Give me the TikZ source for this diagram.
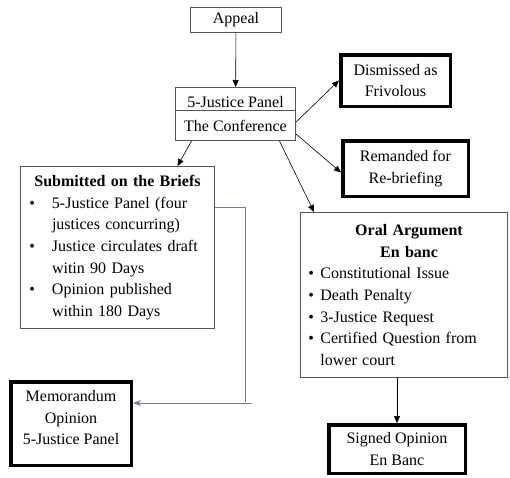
\documentclass[tikz,border=0pt]{standalone}
\usepackage{fontspec}
\setmainfont{Liberation Serif}
\usetikzlibrary{arrows.meta}
\definecolor{boxgray}{RGB}{85,85,85}
\definecolor{linkgray}{RGB}{110,125,150}
\newcommand{\bul}[2]{\hspace*{#1}\makebox[#2][l]{\textbullet}}

\begin{document}
\begin{tikzpicture}[x=1pt,y=-1pt,
    thinbox/.style={draw=boxgray,line width=0.8pt,anchor=north west,inner sep=0pt,align=center,
        font=\fontsize{16}{21.7}\selectfont},
    thickbox/.style={draw=black,line width=3.5pt,anchor=north west,inner sep=0pt,align=center,
        font=\fontsize{16}{21.7}\selectfont},
    link/.style={-{Triangle[length=7pt,width=6pt]},line width=0.6pt}]
    \useasboundingbox (0,0) rectangle (510,477);

    % Top of the chart
    \node[thinbox,minimum width=91.2pt,minimum height=25.2pt] (appeal) at (190,7) {Appeal};
    \node[thinbox,minimum width=120.2pt,minimum height=53.2pt] (panel) at (175,87)
        {5-Justice Panel\\[2.3pt]The Conference};
    \draw[boxgray,line width=0.8pt] (panel.west |- 0,110) -- (panel.east |- 0,110);

    % Outcomes to the right
    \node[thickbox,minimum width=109.5pt,minimum height=51.5pt] (dism) at (339,53)
        {Dismissed as\\Frivolous};
    \node[thickbox,minimum width=125.5pt,minimum height=55.5pt] (rem) at (341,139)
        {Remanded for\\Re-briefing};

    % The two tracks
    \node[thinbox,minimum width=194.2pt,minimum height=162.2pt,text width=194.2pt,align=left] (sub) at (20,166)
        {\centerline{\textbf{Submitted on the Briefs}}
        \bul{9pt}{22.6pt}5-Justice Panel (four\\
        \hspace*{31.6pt}justices concurring)\\
        \bul{9pt}{22.6pt}Justice circulates draft\\
        \hspace*{31.6pt}witin 90 Days\\
        \bul{9pt}{22.6pt}Opinion published\\
        \hspace*{31.6pt}within 180 Days};
    \node[thinbox,minimum width=207.2pt,minimum height=165.2pt,text width=207.2pt,align=left] (oral) at (300,212)
        {\centerline{\hspace{10pt}\textbf{Oral Argument}}
        \centerline{\hspace{10pt}\textbf{En banc}}
        \bul{8pt}{12pt}Constitutional Issue\\
        \bul{8pt}{12pt}Death Penalty\\
        \bul{8pt}{12pt}3-Justice Request\\
        \bul{8pt}{12pt}Certified Question from\\
        \hspace*{20pt}lower court};

    % Final opinions
    \node[thickbox,minimum width=120.5pt,minimum height=83.5pt] (memo) at (9,380)
        {Memorandum\\Opinion\\5-Justice Panel\\[-9.7pt]\mbox{}};
    \node[thickbox,minimum width=136.5pt,minimum height=48.5pt] (signed) at (327,423)
        {Signed Opinion\\En Banc};

    % Arrows
    \draw[link] (appeal) -- (panel);
    \draw[link] ([yshift=-8pt]panel.east) -- (dism.west);
    \draw[link] ([yshift=-20pt]panel.east) -- ([yshift=-4pt]rem.west);
    \draw[link] ([xshift=-44pt]panel.south) -- ([xshift=60pt]sub.north);
    \draw[link] ([xshift=44pt]panel.south) -- ([xshift=14pt]oral.north west);
    \draw[link] (oral.south -| signed.north) -- (signed.north);

    % Gray link to the memorandum
    \coordinate (bendtop) at (245,207);
    \coordinate (bendlow) at (245,402);
    \coordinate (memoin) at (252,403);
    \draw[linkgray,line width=0.8pt] (sub.east |- bendtop) -- (bendtop) -- (bendlow);
    \draw[linkgray,line width=0.8pt,-{Stealth[length=8pt,width=6pt]}] (memoin) -- (memo.east |- memoin);
\end{tikzpicture}
\end{document}
